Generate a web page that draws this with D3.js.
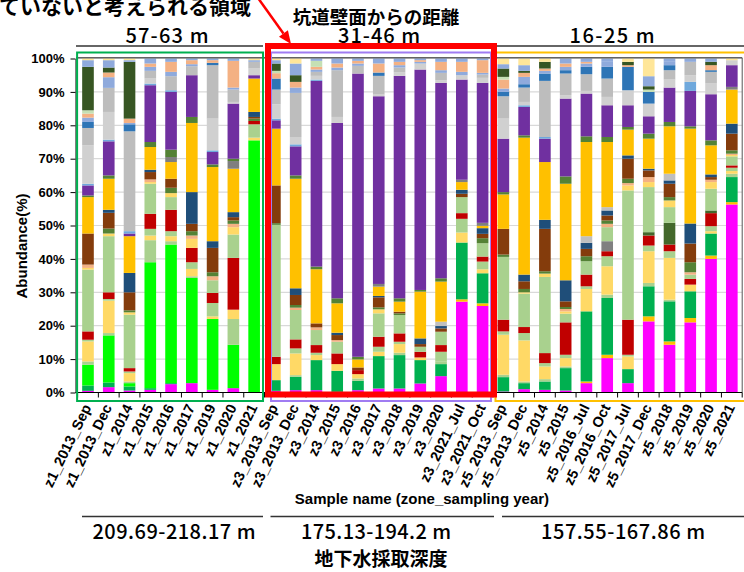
<!DOCTYPE html>
<html lang="ja">
<head>
<meta charset="utf-8">
<title>Abundance by sample</title>
<script src="https://cdn.jsdelivr.net/npm/d3@7/dist/d3.min.js"></script>
<style>
  html, body { margin: 0; padding: 0; background: #fff; }
  svg { display: block; }
  .latin { font-family: "Liberation Sans", Arial, sans-serif; font-weight: bold; fill: #000; }
  .cjk { font-family: "Noto Sans CJK JP", sans-serif; fill: #000; }
</style>
</head>
<body>
<svg id="chart" width="744" height="572"></svg>
<script>
// ---- Samples (zone_sampling year) ----
const samples = [
  "z1_2013_Sep", "z1_2013_Dec", "z1_2014", "z1_2015", "z1_2016", "z1_2017", "z1_2019", "z1_2020", "z1_2021",
  "z3_2013_Sep", "z3_2013_Dec", "z3_2014", "z3_2015", "z3_2016", "z3_2017", "z3_2018", "z3_2019", "z3_2020", "z3_2021_Jul", "z3_2021_Oct",
  "z5_2013_Sep", "z5_2013_Dec", "z5_2014", "z5_2015", "z5_2016_Jul", "z5_2016_Oct", "z5_2017_Jul", "z5_2017_Dec", "z5_2018", "z5_2019", "z5_2020", "z5_2021"
];

// Zones: distance from the tunnel wall and groundwater sampling depth
const zoneDistance = ["57-63 m", "31-46 m", "16-25 m"];
const zoneDepth = ["209.69-218.17 m", "175.13-194.2 m", "157.55-167.86 m"];
const zoneMembers = [9, 11, 12];

// ---- Relative abundance (%) per taxon, stacked from the bottom of each bar ----
const t01 = [0.5, 1.6, 0.6, 0.8, 2.5, 2.8, 0.8, 1.3, 0, 0.5, 0.7, 0.7, 0.2, 0.7, 1.2, 1.2, 2.7, 4.9, 27.2, 25.9, 0.3, 1.0, 0.8, 0.6, 2.8, 10.3, 2.8, 21.3, 14.3, 21.0, 40.0, 56.3];
const t02 = [0, 0, 0, 0, 0, 0, 0, 0, 0, 0, 0, 0, 0, 0, 0, 0, 0, 0, 0.7, 0.8, 0, 0, 0, 0, 0.5, 1.0, 0, 1.5, 1.0, 1.3, 1.0, 0.7];
const t03 = [1.6, 1.4, 1.2, 0.5, 0.3, 0, 0, 0, 0, 3.2, 4.0, 9.0, 6.3, 2.8, 9.7, 10.0, 7.0, 3.6, 17.0, 9.0, 4.3, 1.8, 2.5, 6.7, 21.0, 17.0, 4.2, 9.0, 12.0, 8.0, 6.6, 7.5];
const t04 = [6.2, 14.1, 1.0, 37.7, 41.5, 31.5, 21.2, 13.0, 75.5, 0, 0, 0, 0, 0, 0, 0, 0, 0, 0, 0, 0, 0, 0, 0, 0, 0, 0, 0, 0, 0, 0, 0];
const t05 = [1.0, 0.7, 0.5, 6.6, 1.0, 0.5, 0, 7.7, 0, 0, 0.5, 0, 0, 0.7, 0, 0.7, 0, 0.7, 0, 0, 0.7, 0.5, 0.7, 0.5, 0, 1.0, 0, 1.0, 0.5, 0, 0, 1.0];
const t06 = [6.0, 9.7, 2.5, 1.4, 1.5, 2.2, 0.8, 2.8, 0.8, 4.8, 6.5, 1.5, 2.0, 1.3, 1.3, 2.6, 0.8, 0, 3.0, 1.2, 12.0, 12.3, 3.8, 2.5, 6.7, 8.5, 3.8, 9.5, 12.5, 2.0, 0.7, 0.8];
const t07 = [0.5, 0.5, 0.5, 2.0, 1.5, 2.0, 4.0, 0, 4.0, 0, 1.5, 0.7, 0, 0, 1.5, 0.7, 0, 3.0, 4.1, 2.3, 1.0, 2.2, 1.0, 1.0, 0.8, 3.0, 0.5, 1.7, 2.0, 0, 1.5, 1.0];
const t08 = [2.5, 2.0, 1.0, 4.5, 6.4, 4.3, 3.0, 15.5, 1.0, 2.2, 2.7, 2.3, 3.2, 1.2, 3.0, 2.5, 1.7, 2.0, 1.7, 1.5, 3.5, 1.8, 3.0, 9.7, 3.5, 1.5, 10.5, 3.0, 2.0, 1.7, 3.9, 0.7];
const t09 = [0, 0, 0, 0, 0, 0, 0, 0, 0, 0, 0, 0, 0, 0, 0, 0, 0, 0, 0, 0, 0, 0, 0, 0, 0, 3.0, 0, 0, 0, 0, 0, 0];
const t10 = [0, 0, 0, 0, 0, 0, 0, 0, 0, 0, 0, 0, 0, 0, 0, 0, 0, 0, 0, 0, 0, 0, 0, 0, 0, 0, 0, 1.0, 6.5, 0, 0.8, 0];
const t11 = [18.5, 16.8, 16.0, 9.0, 3.8, 0, 3.8, 7.0, 0, 39.5, 8.8, 4.5, 3.5, 0, 7.0, 5.5, 1.5, 4.0, 4.8, 4.0, 18.8, 10.0, 22.8, 2.6, 4.0, 4.2, 38.7, 13.5, 4.7, 1.3, 6.5, 2.7];
const t12 = [0.5, 0.8, 0.7, 0.5, 1.2, 2.7, 0, 2.2, 0, 0, 0, 0, 0, 0, 1.2, 0, 0, 0, 0, 0, 0, 0.4, 1.0, 0.7, 0, 0, 1.5, 1.5, 2.0, 0, 2.0, 0.4];
const t13 = [1.0, 0, 0, 0.8, 0, 1.0, 1.2, 1.0, 0, 0, 0.7, 0.8, 0.5, 0, 0, 0, 0, 0, 0, 0, 0, 0, 0, 0.7, 0, 1.0, 0.7, 1.5, 0, 0.7, 0.7, 0.4];
const t14 = [0, 1.5, 0.6, 0, 1.6, 1.3, 1.2, 1.0, 0.7, 0.5, 0.8, 0, 0, 0, 0.6, 0.5, 0, 0, 0, 1.5, 0.7, 1.0, 0.7, 0.6, 1.5, 1.0, 1.3, 0, 1.0, 3.0, 0, 1.0];
const t15 = [9.3, 4.7, 5.4, 2.2, 2.7, 2.2, 7.3, 1.0, 0.5, 11.3, 3.0, 1.2, 1.5, 0.8, 3.0, 0.5, 0.8, 1.0, 1.0, 1.3, 7.7, 2.3, 12.7, 1.7, 2.2, 1.5, 6.0, 2.0, 4.0, 5.6, 0.8, 5.0];
const t16 = [0, 0.9, 5.8, 0.7, 0, 9.5, 2.0, 1.5, 1.5, 0, 2.0, 0, 0.7, 0, 0.4, 0, 1.7, 0.7, 1.2, 1.7, 0, 2.0, 2.7, 6.3, 1.8, 1.5, 1.0, 0.5, 1.0, 6.0, 0.8, 3.0];
const t17 = [0, 0, 0, 0, 0, 0, 0, 0, 0, 0, 0, 0, 0, 0, 0, 0, 0, 1.3, 0, 0, 0, 0, 0, 0, 2.0, 1.0, 0, 0, 2.0, 0, 0, 0];
const t18 = [10.9, 9.3, 11.0, 6.8, 5.0, 20.7, 22.2, 13.0, 10.0, 17.0, 32.8, 16.2, 8.8, 2.4, 2.8, 3.0, 14.0, 12.0, 2.3, 0.7, 10.3, 41.0, 17.3, 28.9, 28.2, 19.5, 7.7, 9.0, 14.2, 28.4, 8.7, 10.2];
const t19 = [0, 0, 0, 0, 1.5, 0, 0, 2.3, 0, 0, 0, 0, 0, 0, 0.8, 0, 0, 0, 0.7, 0.9, 0, 0, 0, 0, 0, 0, 0, 0, 0, 0, 0, 0.8];
const t20 = [0.5, 1.0, 0, 1.5, 2.2, 1.8, 0.8, 0.7, 0, 0, 1.0, 0.8, 1.5, 0.8, 0, 1.0, 0.5, 1.0, 0, 0, 0.7, 0.7, 0, 2.2, 1.7, 1.5, 0.8, 1.5, 1.3, 0.7, 1.5, 0];
const t21 = [3.0, 10.2, 0.8, 17.0, 17.3, 12.5, 3.7, 16.5, 1.0, 2.5, 8.7, 55.6, 52.5, 84.8, 56.2, 66.6, 66.0, 58.5, 30.0, 41.9, 16.0, 8.5, 7.0, 23.3, 12.8, 9.5, 6.5, 5.2, 10.3, 10.6, 13.8, 6.5];
const t22 = [0.5, 0.5, 0.7, 0.5, 0.5, 0, 0.5, 0, 0, 0.5, 0.6, 0.4, 0, 0, 0, 0, 0, 0, 0, 0, 0, 0.5, 0.5, 0, 0, 0, 0, 0, 0, 2.7, 0, 0];
const t23 = [11.5, 8.3, 0, 1.5, 0, 0, 9.5, 0.5, 2.0, 4.3, 2.2, 1.1, 1.8, 0, 0.5, 1.0, 1.8, 0.8, 1.3, 1.5, 6.0, 1.0, 0, 1.0, 0.8, 2.5, 4.5, 3.8, 2.4, 2.0, 3.2, 1.5];
const t24 = [5.2, 7.2, 29.9, 2.3, 4.2, 2.7, 16.0, 3.7, 2.0, 4.4, 13.2, 1.2, 14.0, 2.3, 5.6, 1.5, 0, 2.2, 0, 1.0, 6.7, 4.3, 16.8, 6.5, 5.0, 5.5, 0, 0, 2.8, 4.0, 3.5, 0];
const t25 = [1.8, 0, 2.1, 0, 0, 0, 0.7, 0, 0, 3.3, 0, 0, 0, 0, 1.0, 0, 0, 0, 0, 0, 1.3, 1.0, 2.2, 1.0, 2.2, 3.5, 7.0, 3.5, 1.5, 0, 0.5, 0];
const t26 = [1.3, 3.2, 0.4, 1.2, 1.3, 0.6, 0, 0.6, 0, 0, 1.6, 0.7, 0.8, 0.7, 0, 0.7, 0.5, 0.8, 1.0, 0.5, 1.0, 2.2, 0.8, 1.0, 1.0, 1.5, 0, 0, 1.0, 0, 0, 0];
const t27 = [1.2, 1.4, 1.3, 1.0, 3.0, 1.2, 0.8, 8.0, 0, 1.6, 1.7, 0.8, 1.2, 0.8, 2.7, 1.0, 0.5, 2.5, 3.0, 3.8, 2.7, 1.2, 0.7, 1.0, 0.5, 0, 0.5, 0, 0, 0, 1.5, 0];
const t28 = [1.0, 0, 0, 0, 0, 0, 0, 0, 0, 0.7, 0, 1.8, 0, 0, 0, 0, 0, 0, 0, 0, 0.8, 0, 0, 0, 0, 0, 0, 0.7, 0, 0, 0, 0];
const t29 = [13.0, 1.5, 17.0, 0, 0, 0, 0, 0, 0, 2.2, 2.0, 0, 0, 0, 0, 0, 0, 0, 0, 0, 2.5, 0.6, 2.0, 0, 0, 0, 1.0, 1.0, 0, 0, 1.0, 0];
const t30 = [2.0, 2.2, 0.5, 1.5, 1.0, 0.5, 0.5, 0.7, 0.5, 1.0, 3.5, 0.7, 1.5, 0.7, 1.5, 1.0, 0.5, 1.0, 1.0, 0.5, 1.3, 1.7, 0, 1.5, 1.0, 1.0, 0, 3.0, 1.0, 1.0, 1.0, 0];
const t31 = [0.5, 0.5, 0.5, 0, 0, 0, 0, 0, 0.5, 0.5, 1.5, 0, 0, 0, 0, 0, 0, 0, 0, 0, 1.7, 2.0, 1.0, 0, 0, 0, 1.0, 5.3, 0, 0, 0, 0.5];

const taxonValues = [t01, t02, t03, t04, t05, t06, t07, t08, t09, t10, t11, t12, t13, t14, t15, t16,
                     t17, t18, t19, t20, t21, t22, t23, t24, t25, t26, t27, t28, t29, t30, t31];
const taxa = taxonValues.map((_, i) => "Taxon " + String(i + 1).padStart(2, "0"));

// Fill colour for each taxon (same order as above)
const taxonColors = [
  "#FF00FF", "#FFC000", "#00B050", "#00FF00", "#A9D18E", "#FFD966", "#A9D18E", "#C00000",
  "#808080", "#43682B", "#A9D18E", "#FFD966", "#F4B183", "#548235", "#843C0C", "#1F4E79",
  "#BFBFBF", "#FFC000", "#7F7F7F", "#548235", "#7030A0", "#6FA8DC", "#D0D0D0", "#BDBDBD",
  "#2E75B6", "#8FAADC", "#F4B183", "#C5E0B4", "#375623", "#8FAADC", "#FFE699"
];

const yTicks = [0, 10, 20, 30, 40, 50, 60, 70, 80, 90, 100];

// ---- Layout ----
const svg = d3.select("#chart");
const W = 744, H = 572;
const plot = { left: 77.6, right: 742.2, top: 58.5, bottom: 392.5 };

const x = d3.scaleBand().domain(samples).range([plot.left, plot.right])
  .paddingInner(0.44).paddingOuter(0.22);
const y = d3.scaleLinear().domain([0, 100]).range([plot.bottom, plot.top]);
const color = d3.scaleOrdinal().domain(taxa).range(taxonColors);

const rows = samples.map((s, i) => {
  const r = { sample: s };
  taxa.forEach((k, j) => { r[k] = taxonValues[j][i]; });
  return r;
});
const layers = d3.stack().keys(taxa)(rows);

svg.append("rect").attr("width", W).attr("height", H).attr("fill", "#fff");

// gridlines
svg.append("g").selectAll("line").data(yTicks.filter(d => d > 0)).join("line")
  .attr("x1", 76).attr("x2", plot.right)
  .attr("y1", d => y(d)).attr("y2", d => y(d))
  .attr("stroke", "#d9d9d9").attr("stroke-width", 1.2);

// stacked bars
svg.append("g").selectAll("g").data(layers).join("g")
  .attr("fill", d => color(d.key))
  .selectAll("rect").data(d => d.filter(p => p[1] - p[0] > 0)).join("rect")
  .attr("x", d => x(d.data.sample))
  .attr("width", x.bandwidth())
  .attr("y", d => y(d[1]))
  .attr("height", d => y(d[0]) - y(d[1]));

// plot frame (top and right)
svg.append("line").attr("x1", 76).attr("x2", plot.right).attr("y1", 57.8).attr("y2", 57.8)
  .attr("stroke", "#222").attr("stroke-width", 1);
svg.append("line").attr("x1", plot.right).attr("x2", plot.right).attr("y1", 57.8).attr("y2", plot.bottom)
  .attr("stroke", "#555").attr("stroke-width", 1);

// y axis
const yAxis = svg.append("g").attr("transform", "translate(75.5,0)")
  .call(d3.axisLeft(y).tickValues(yTicks).tickFormat(d => d + "%")
    .tickSizeInner(5).tickSizeOuter(0).tickPadding(6));
yAxis.select(".domain").attr("stroke", "#000");
yAxis.selectAll(".tick line").attr("stroke", "#000");
yAxis.selectAll("text").attr("class", "latin").style("font-size", "13px");

// x axis line with ticks at band boundaries
const step = x.step();
const bounds = samples.map(s => x(s) - (step - x.bandwidth()) / 2).concat([plot.right]);
svg.append("line").attr("x1", 75.5).attr("x2", plot.right).attr("y1", plot.bottom).attr("y2", plot.bottom)
  .attr("stroke", "#000").attr("stroke-width", 1.2);
svg.append("g").selectAll("line").data(bounds).join("line")
  .attr("x1", d => d).attr("x2", d => d).attr("y1", plot.bottom).attr("y2", plot.bottom + 5)
  .attr("stroke", "#000");

// zone frames
const zoneEdges = [];
{ let k = 0; zoneMembers.forEach(n => { zoneEdges.push([samples[k], samples[k + n - 1]]); k += n; }); }
const zoneX0 = zoneEdges.map(e => x(e[0]) - (step - x.bandwidth()) / 2);
const zoneX1 = zoneEdges.map(e => x(e[1]) + x.bandwidth() + (step - x.bandwidth()) / 2);
const frameColors = ["#00B050", "#A07CF2", "#FFC000"];
const frames = [
  [zoneX0[0] - 0.5, zoneX1[0] - 1.5],
  [zoneX0[1] + 6.5, zoneX1[1] - 2.0],
  [zoneX0[2] + 2.5, W + 5]
];
svg.append("g").selectAll("rect").data(frames).join("rect")
  .attr("x", d => d[0]).attr("y", 52.5)
  .attr("width", d => d[1] - d[0]).attr("height", 401 - 52.5)
  .attr("fill", "none").attr("stroke", (d, i) => frameColors[i]).attr("stroke-width", 2);

// x tick labels
svg.append("g").selectAll("text").data(samples).join("text")
  .attr("class", "latin")
  .style("font-size", "14.5px")
  .attr("text-anchor", "end")
  .attr("dy", "0.35em")
  .attr("transform", d => `translate(${x(d) + x.bandwidth() / 2 - 1},${405}) rotate(-64)`)
  .text(d => d);

// axis titles
svg.append("text").attr("class", "latin").style("font-size", "15px")
  .attr("text-anchor", "middle")
  .attr("transform", "translate(26.5,246) rotate(-90)")
  .text("Abundance(%)");
svg.append("text").attr("class", "latin").style("font-size", "15px")
  .attr("text-anchor", "middle").attr("x", 422).attr("y", 504)
  .text("Sample name (zone_sampling year)");

// zone headers: distance from tunnel wall
const topLines = [[76, 263], [273, 494], [497, 744]];
svg.append("g").selectAll("line").data(topLines).join("line")
  .attr("x1", d => d[0]).attr("x2", d => d[1]).attr("y1", 46).attr("y2", 46)
  .attr("stroke", "#333").attr("stroke-width", 1.5);
const topLabelX = [167, 379, 612];
const topLabelW = [83, 82, 85];
svg.append("g").selectAll("text").data(zoneDistance).join("text")
  .attr("class", "cjk").style("font-size", "20px").style("font-weight", 500)
  .attr("text-anchor", "middle")
  .attr("x", (d, i) => topLabelX[i]).attr("y", 43)
  .attr("textLength", (d, i) => topLabelW[i]).attr("lengthAdjust", "spacing")
  .text(d => d);

// zone footers: groundwater sampling depth
const bottomLines = [[82, 263], [270.5, 494], [502, 744]];
svg.append("g").selectAll("line").data(bottomLines).join("line")
  .attr("x1", d => d[0]).attr("x2", d => d[1]).attr("y1", 516.5).attr("y2", 516.5)
  .attr("stroke", "#333").attr("stroke-width", 1.5);
const bottomLabelX = [174, 376, 623];
const bottomLabelW = [163, 150, 164];
svg.append("g").selectAll("text").data(zoneDepth).join("text")
  .attr("class", "cjk").style("font-size", "20px").style("font-weight", 500)
  .attr("text-anchor", "middle")
  .attr("x", (d, i) => bottomLabelX[i]).attr("y", 539)
  .attr("textLength", (d, i) => bottomLabelW[i]).attr("lengthAdjust", "spacing")
  .text(d => d);

svg.append("text").attr("class", "cjk").style("font-size", "19px").style("font-weight", 700)
  .attr("text-anchor", "middle").attr("x", 381).attr("y", 566)
  .text("地下水採取深度");

svg.append("text").attr("class", "cjk").style("font-size", "18.5px").style("font-weight", 700)
  .attr("text-anchor", "middle").attr("x", 376).attr("y", 24)
  .text("坑道壁面からの距離");

// highlighted zone and its callout
svg.append("rect")
  .attr("x", 268).attr("y", 46)
  .attr("width", 494 - 268).attr("height", 394.5 - 46)
  .attr("fill", "none").attr("stroke", "#FF0000").attr("stroke-width", 6);

svg.append("text").attr("class", "cjk").style("font-size", "21px").style("font-weight", 700)
  .attr("text-anchor", "end").attr("x", 251).attr("y", 14)
  .text("ていないと考えられる領域");

{
  const p0 = [258, -2], tip = [291, 44];
  const dx = tip[0] - p0[0], dy = tip[1] - p0[1];
  const len = Math.hypot(dx, dy), ux = dx / len, uy = dy / len;
  const headL = 13, headW = 5.5;
  const bx = tip[0] - ux * headL, by = tip[1] - uy * headL;
  svg.append("line").attr("x1", p0[0]).attr("y1", p0[1]).attr("x2", bx).attr("y2", by)
    .attr("stroke", "#FF0000").attr("stroke-width", 2.5);
  svg.append("path")
    .attr("d", `M${tip[0]},${tip[1]}L${bx - uy * headW},${by + ux * headW}L${bx + uy * headW},${by - ux * headW}Z`)
    .attr("fill", "#FF0000");
}
</script>
</body>
</html>
